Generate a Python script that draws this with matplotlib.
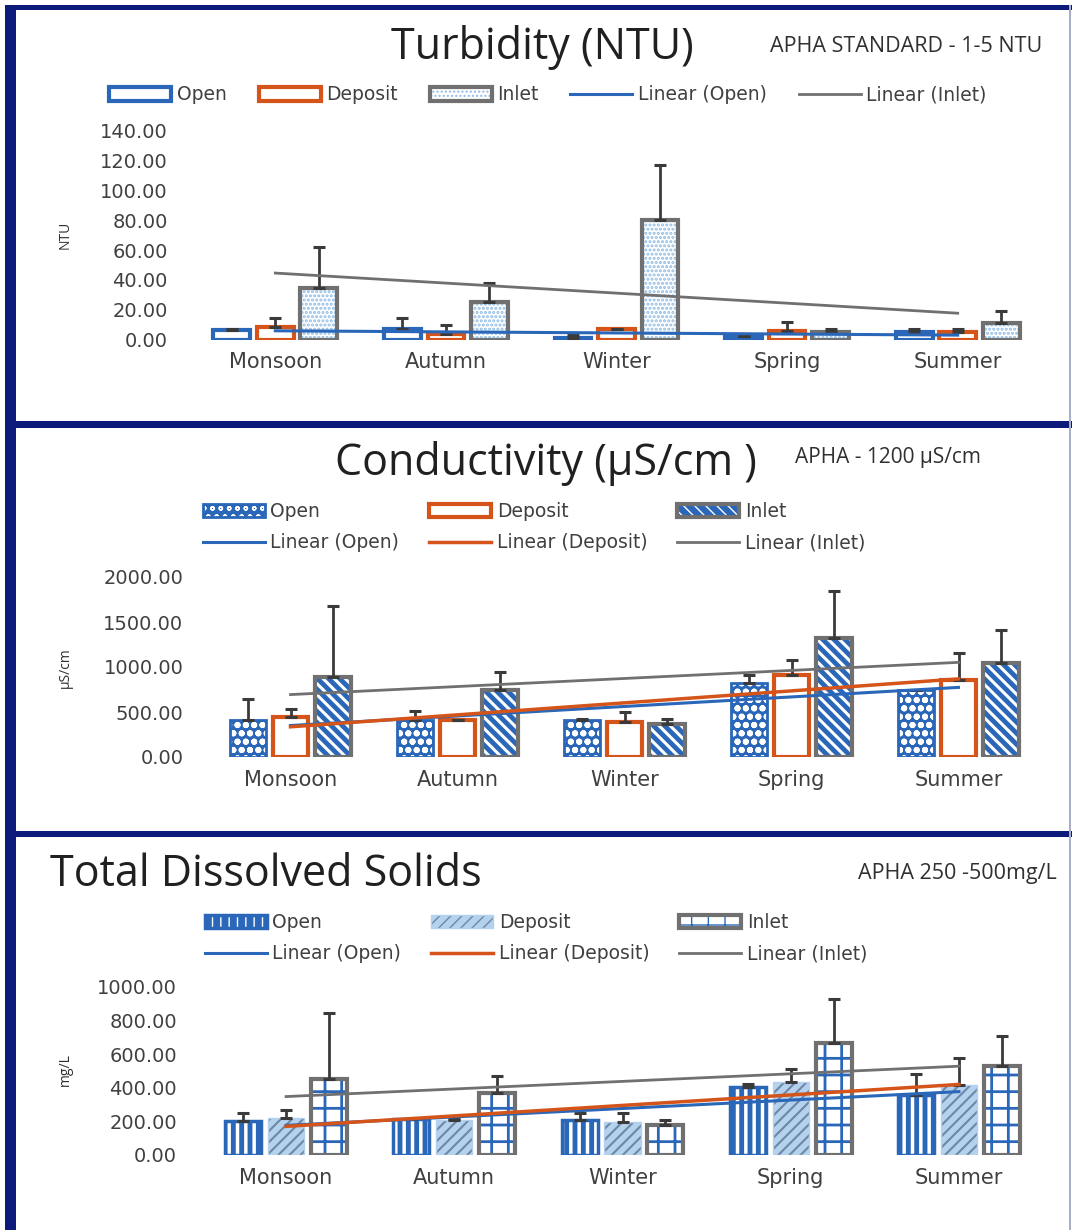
"""
Water quality by season - Turbidity, Conductivity, TDS (Open / Deposit / Inlet).
Three stacked Excel-style bar panels with error bars and linear trend lines.
"""

import matplotlib
matplotlib.use("Agg")
import matplotlib.pyplot as plt
import numpy as np
from matplotlib.lines import Line2D
from matplotlib.patches import Patch, Rectangle

W, H = 1072, 1230

categories = ["Monsoon", "Autumn", "Winter", "Spring", "Summer"]

# Turbidity (NTU): means and +SD
turb_open = [6.7, 7.3, 1.5, 2.5, 5.5]
turb_open_sd = [0.6, 7.3, 1.8, 0.0, 1.8]
turb_deposit = [8.9, 3.8, 7.3, 6.0, 5.0]
turb_deposit_sd = [5.7, 6.2, 0.3, 5.8, 2.3]
turb_inlet = [34.7, 25.0, 80.0, 5.5, 11.0]
turb_inlet_sd = [27.3, 12.8, 36.7, 1.8, 8.3]

# Conductivity (uS/cm)
cond_open = [415, 415, 415, 822, 741]
cond_open_sd = [234, 96, 5, 85, 9]
cond_deposit = [444, 408, 389, 907, 860]
cond_deposit_sd = [94, 7, 111, 175, 296]
cond_inlet = [889, 741, 363, 1326, 1044]
cond_inlet_sd = [785, 203, 56, 518, 363]

# Total dissolved solids (mg/L)
tds_open = [202, 212, 208, 406, 356]
tds_open_sd = [46, 0, 40, 14, 125]
tds_deposit = [218, 208, 198, 436, 416]
tds_deposit_sd = [49, 4, 50, 73, 164]
tds_inlet = [450, 370, 178, 664, 529]
tds_inlet_sd = [396, 99, 30, 267, 180]

BLUE = "#2a67b8"
ORANGE = "#d4541a"
GRAY = "#707070"
LIGHTBLUE = "#8fbce6"
NAVY = "#0c1b7a"
ERR = "#3a3a3a"

TITLE_FONT = "Open Sans"
BODY_FONT = "DejaVu Sans"

BAR_W = 0.215
STEP = 0.255


def fx(px):
    return px / W


def fy(py):
    return 1 - py / H


def axes_rect(x0, x1, ytop, ybot):
    return [fx(x0), fy(ybot), (x1 - x0) / W, (ybot - ytop) / H]


def set_hatch_lw(container, lw):
    for p in container:
        if hasattr(p, "set_hatch_linewidth"):
            p.set_hatch_linewidth(lw)


def draw_series(ax, offset, vals, sd, style):
    x = np.arange(len(vals)) + offset
    if style.get("hatch"):
        fill = ax.bar(x, vals, BAR_W, color=style["face"], edgecolor=style["hatch_col"],
                      linewidth=0, hatch=style["hatch"], zorder=2)
        set_hatch_lw(fill, style.get("hatch_lw", 1.5))
        ax.bar(x, vals, BAR_W, facecolor="none", edgecolor=style["edge"],
               linewidth=style["lw"], zorder=3)
    else:
        ax.bar(x, vals, BAR_W, color=style["face"], edgecolor=style["edge"],
               linewidth=style["lw"], zorder=3)
    ax.errorbar(x, vals, yerr=[np.zeros(len(sd)), sd], fmt="none", ecolor=ERR,
                elinewidth=2, capsize=4.5, capthick=2.2, zorder=4)


def legend_handle(style):
    if style.get("hatch"):
        fill = Patch(facecolor=style["face"], edgecolor=style["hatch_col"],
                     linewidth=0, hatch=style["hatch"])
        edge = Patch(facecolor="none", edgecolor=style["edge"], linewidth=style["lw"])
        return (fill, edge)
    return Patch(facecolor=style["face"], edgecolor=style["edge"], linewidth=style["lw"])


def draw_panel(fig, rect, series, styles, trends, ymax, ystep, ypad):
    ax = fig.add_axes(rect)
    x = np.arange(len(categories))
    for k, (vals, sd) in enumerate(series):
        draw_series(ax, (k - 1) * STEP, vals, sd, styles[k])
    for k, col, lw in trends:
        slope, icpt = np.polyfit(x, series[k][0], 1)
        ax.plot([x[0], x[-1]], [icpt, icpt + slope * x[-1]], color=col, lw=lw, zorder=5)
    ax.set_xlim(-0.5, len(categories) - 0.5)
    ax.set_ylim(0, ymax)
    ax.set_yticks(np.arange(0, ymax + 1, ystep))
    ax.set_yticklabels([f"{v:.2f}" for v in np.arange(0, ymax + 1, ystep)],
                       fontsize=14, family=BODY_FONT, color="#404040")
    ax.set_xticks(x)
    ax.set_xticklabels(categories, fontsize=15, family=BODY_FONT, color="#404040")
    ax.tick_params(axis="y", length=0, pad=ypad)
    ax.tick_params(axis="x", length=0, pad=9)
    for s in ax.spines.values():
        s.set_visible(False)
    ax.patch.set_alpha(0)
    return ax


LEG = dict(frameon=False, prop=dict(family=BODY_FONT, size=13.5), handlelength=3.3,
           handleheight=0.7, handletextpad=0.3, labelcolor="#404040")

fig = plt.figure(figsize=(W / 100, H / 100), dpi=100)

# ---------------- Turbidity ----------------
turb_styles = [
    dict(face="white", edge=BLUE, lw=3),
    dict(face="white", edge=ORANGE, lw=3),
    dict(face="white", hatch="....", hatch_col=LIGHTBLUE, hatch_lw=1.5, edge=GRAY, lw=3),
]
draw_panel(fig, axes_rect(190, 1043, 130, 340),
           [(turb_open, turb_open_sd), (turb_deposit, turb_deposit_sd), (turb_inlet, turb_inlet_sd)],
           turb_styles, [(0, BLUE, 2.2), (2, GRAY, 2.0)], 140, 20, 16)
fig.text(fx(542), fy(47), "Turbidity (NTU)", ha="center", va="center",
         fontsize=31, family=TITLE_FONT, color="#202020")
fig.text(fx(770), fy(46), "APHA STANDARD - 1-5 NTU", ha="left", va="center",
         fontsize=15.5, family=TITLE_FONT, color="#303030")
fig.text(fx(65), fy(235), "NTU", rotation=90, ha="center", va="center",
         fontsize=10, family=TITLE_FONT, color="#303030")
h = [legend_handle(s) for s in turb_styles] + [Line2D([], [], color=BLUE, lw=2.2),
                                                Line2D([], [], color=GRAY, lw=2.0)]
fig.legend(h, ["Open", "Deposit", "Inlet", "Linear (Open)", "Linear (Inlet)"],
           loc="center", bbox_to_anchor=(fx(548), fy(95)), ncol=5,
           columnspacing=1.7, **LEG)

# ---------------- Conductivity ----------------
cond_styles = [
    dict(face=BLUE, hatch="oo", hatch_col="white", hatch_lw=2.0, edge=BLUE, lw=2),
    dict(face="white", edge=ORANGE, lw=3),
    dict(face=BLUE, hatch="\\\\\\", hatch_col="white", hatch_lw=2.2, edge=GRAY, lw=3),
]
draw_panel(fig, axes_rect(207, 1042, 577, 757),
           [(cond_open, cond_open_sd), (cond_deposit, cond_deposit_sd), (cond_inlet, cond_inlet_sd)],
           cond_styles, [(0, BLUE, 2.2), (1, ORANGE, 2.5), (2, GRAY, 2.0)], 2000, 500, 17)
fig.text(fx(546), fy(463), "Conductivity (\u00b5S/cm )", ha="center", va="center",
         fontsize=31, family=TITLE_FONT, color="#202020")
fig.text(fx(795), fy(457), "APHA - 1200 \u00b5S/cm", ha="left", va="center",
         fontsize=15, family=TITLE_FONT, color="#303030")
fig.text(fx(65), fy(668), "\u00b5S/cm", rotation=90, ha="center", va="center",
         fontsize=10, family=TITLE_FONT, color="#303030")
h = [legend_handle(cond_styles[0]), Line2D([], [], color=BLUE, lw=2.2),
     legend_handle(cond_styles[1]), Line2D([], [], color=ORANGE, lw=2.5),
     legend_handle(cond_styles[2]), Line2D([], [], color=GRAY, lw=2.0)]
fig.legend(h, ["Open", "Linear (Open)", "Deposit", "Linear (Deposit)", "Inlet", "Linear (Inlet)"],
           loc="center", bbox_to_anchor=(fx(534), fy(527)), ncol=3,
           columnspacing=1.6, labelspacing=0.65, **LEG)

# ---------------- Total Dissolved Solids ----------------
tds_styles = [
    dict(face=BLUE, hatch="||", hatch_col="white", hatch_lw=2.5, edge=BLUE, lw=2.5),
    dict(face="#b4d1ee", hatch="///", hatch_col="#6d87a5", hatch_lw=1.5, edge="#b4d1ee", lw=1),
    dict(face="white", hatch="+", hatch_col=BLUE, hatch_lw=2.0, edge=GRAY, lw=3),
]
draw_panel(fig, axes_rect(202, 1043, 987, 1155),
           [(tds_open, tds_open_sd), (tds_deposit, tds_deposit_sd), (tds_inlet, tds_inlet_sd)],
           tds_styles, [(0, BLUE, 2.2), (1, ORANGE, 2.5), (2, GRAY, 2.0)], 1000, 200, 18)
fig.text(fx(50), fy(875), "Total Dissolved Solids", ha="left", va="center",
         fontsize=31, family=TITLE_FONT, color="#202020")
fig.text(fx(858), fy(873), "APHA 250 -500mg/L", ha="left", va="center",
         fontsize=15.5, family=TITLE_FONT, color="#303030")
fig.text(fx(65), fy(1070), "mg/L", rotation=90, ha="center", va="center",
         fontsize=10, family=TITLE_FONT, color="#303030")
h = [legend_handle(tds_styles[0]), Line2D([], [], color=BLUE, lw=2.2),
     legend_handle(tds_styles[1]), Line2D([], [], color=ORANGE, lw=2.5),
     legend_handle(tds_styles[2]), Line2D([], [], color=GRAY, lw=2.0)]
fig.legend(h, ["Open", "Linear (Open)", "Deposit", "Linear (Deposit)", "Inlet", "Linear (Inlet)"],
           loc="center", bbox_to_anchor=(fx(536), fy(938)), ncol=3,
           columnspacing=1.6, labelspacing=0.65, **LEG)

# ---------------- panel frames ----------------
def band(x0, x1, y0, y1, color):
    fig.add_artist(Rectangle((fx(x0), fy(y1)), (x1 - x0) / W, (y1 - y0) / H,
                             transform=fig.transFigure, facecolor=color, edgecolor="none"))

band(5, W, 5, 10, NAVY)
band(5, 16, 5, H, NAVY)
band(5, W, 421, 428, NAVY)
band(5, W, 831, 837, NAVY)
band(1069, 1071, 5, H, "#a8aec8")

fig.savefig("out.png", dpi=100)
